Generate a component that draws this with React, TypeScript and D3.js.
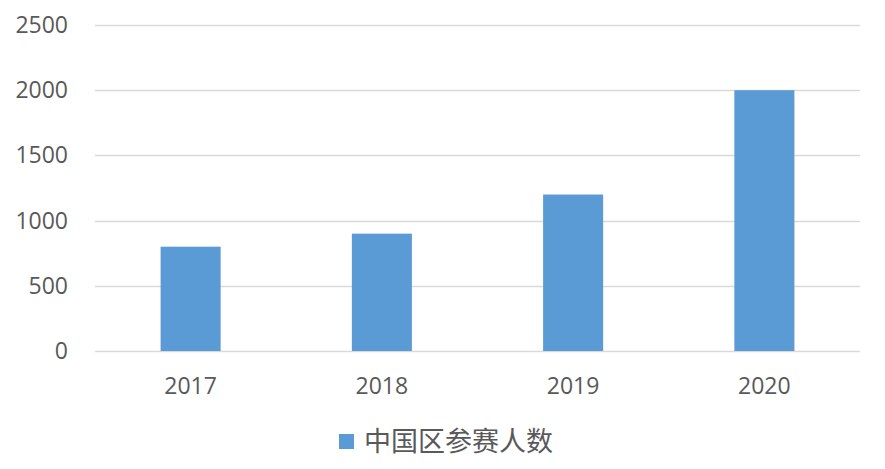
import React, { useEffect, useRef } from "react";
import * as d3 from "d3";

const years = ["2017", "2018", "2019", "2020"];
const participants = [800, 900, 1200, 2000];
const yTicks = [0, 500, 1000, 1500, 2000, 2500];
const seriesName = "中国区参赛人数";

const App = () => {
  const svgRef = useRef<SVGSVGElement | null>(null);
  const w = 885;
  const h = 469;
  const m = { top: 25, right: 25, bottom: 118, left: 95 };

  useEffect(() => {
    const svg = d3.select(svgRef.current);
    svg.selectAll("*").remove();

    const x = d3
      .scaleBand()
      .domain(years)
      .range([m.left, w - m.right])
      .paddingInner(0.686)
      .paddingOuter(0.343);

    const y = d3
      .scaleLinear()
      .domain([0, 2500])
      .range([h - m.bottom, m.top]);

    const font = "'Open Sans', 'Noto Sans', sans-serif";
    const textColor = "#595959";

    // gridlines
    svg
      .append("g")
      .selectAll("line")
      .data(yTicks)
      .enter()
      .append("line")
      .attr("x1", m.left)
      .attr("x2", w - m.right)
      .attr("y1", (d) => Math.round(y(d)) + 0.5)
      .attr("y2", (d) => Math.round(y(d)) + 0.5)
      .attr("stroke", "#d9d9d9")
      .attr("stroke-width", 1.5);

    // y labels
    svg
      .append("g")
      .selectAll("text")
      .data(yTicks)
      .enter()
      .append("text")
      .attr("x", 68)
      .attr("y", (d) => y(d))
      .attr("dy", "0.35em")
      .attr("text-anchor", "end")
      .style("font-family", font)
      .style("font-size", "23px")
      .style("fill", textColor)
      .text((d) => d);

    // bars
    svg
      .append("g")
      .selectAll("rect")
      .data(participants)
      .enter()
      .append("rect")
      .attr("x", (d, i) => x(years[i])!)
      .attr("y", (d) => y(d))
      .attr("width", x.bandwidth())
      .attr("height", (d) => y(0) - y(d))
      .attr("fill", "#5b9bd5");

    // x labels
    svg
      .append("g")
      .selectAll("text")
      .data(years)
      .enter()
      .append("text")
      .attr("x", (d) => x(d)! + x.bandwidth() / 2)
      .attr("y", 394)
      .attr("text-anchor", "middle")
      .style("font-family", font)
      .style("font-size", "23px")
      .style("fill", textColor)
      .text((d) => d);

    // legend
    const legend = svg.append("g");
    legend
      .append("rect")
      .attr("x", 339)
      .attr("y", 434)
      .attr("width", 15)
      .attr("height", 15)
      .attr("fill", "#5b9bd5");
    legend
      .append("text")
      .attr("x", 364)
      .attr("y", 451)
      .style("font-family", "'Noto Sans CJK SC', sans-serif")
      .style("font-size", "27px")
      .style("fill", textColor)
      .text(seriesName);
  }, []);

  return (
    <svg
      ref={svgRef}
      width={w}
      height={h}
      style={{ position: "absolute", left: 0, top: 0, background: "#fff" }}
    ></svg>
  );
};

export default App;
